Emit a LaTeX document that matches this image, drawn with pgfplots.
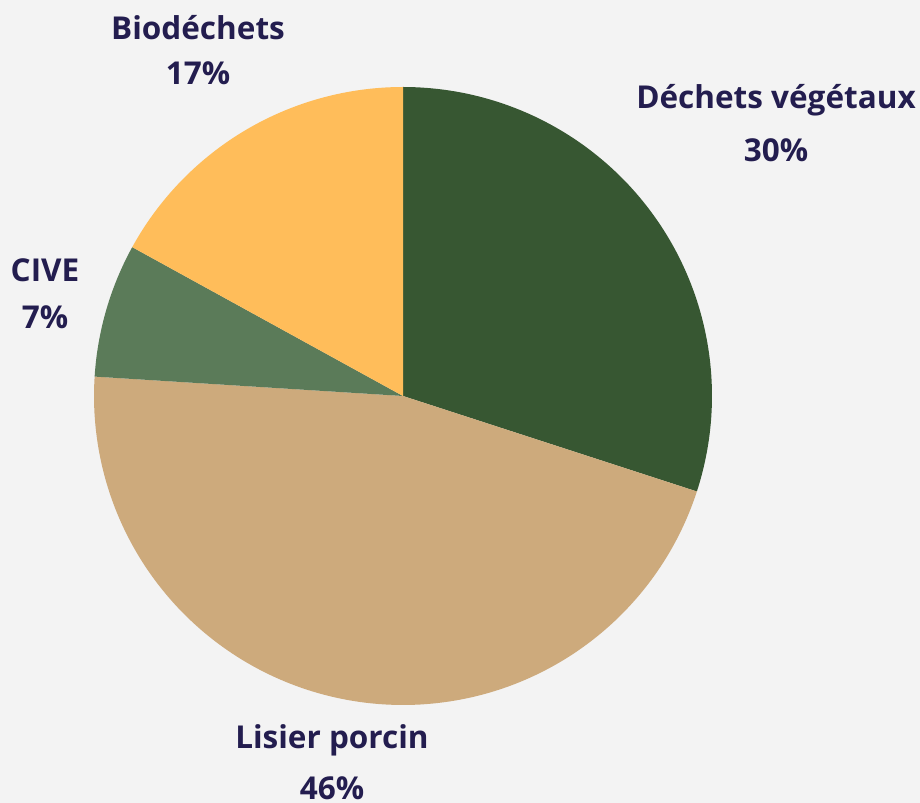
\documentclass[border=0pt]{standalone}
\usepackage{pgfplots}
\pgfplotsset{compat=1.18}
\usepackage{fontspec}
\setmainfont{Open Sans}
\definecolor{bg}{HTML}{F3F3F3}
\definecolor{txt}{HTML}{231D4F}
\definecolor{cA}{HTML}{375732}
\definecolor{cB}{HTML}{CDAA7C}
\definecolor{cC}{HTML}{5B7B59}
\definecolor{cD}{HTML}{FFBD5A}
% values (percent)
\def\vA{30}\def\vB{46}\def\vC{7}\def\vD{17}
\pgfmathsetmacro{\aO}{90}
\pgfmathsetmacro{\aA}{\aO-3.6*\vA}
\pgfmathsetmacro{\aB}{\aA-3.6*\vB}
\pgfmathsetmacro{\aC}{\aB-3.6*\vC}
\pgfmathsetmacro{\aD}{\aC-3.6*\vD}
\begin{document}
\begin{tikzpicture}
\fill[bg] (0,0) rectangle (920bp,803bp);
\begin{axis}[at={(0,0)},anchor=origin,scale only axis,width=920bp,height=803bp,
  xmin=0,xmax=920,ymin=0,ymax=803,hide axis,clip=false]
\def\cx{403}\def\cy{407}\def\r{309}
\addplot[fill=cA,draw=none,domain=\aA:\aO,samples=100,variable=\t] ({\cx+\r*cos(\t)},{\cy+\r*sin(\t)}) -- (axis cs:\cx,\cy) -- cycle;
\addplot[fill=cB,draw=none,domain=\aB:\aA,samples=150,variable=\t] ({\cx+\r*cos(\t)},{\cy+\r*sin(\t)}) -- (axis cs:\cx,\cy) -- cycle;
\addplot[fill=cC,draw=none,domain=\aC:\aB,samples=30,variable=\t] ({\cx+\r*cos(\t)},{\cy+\r*sin(\t)}) -- (axis cs:\cx,\cy) -- cycle;
\addplot[fill=cD,draw=none,domain=\aD:\aC,samples=60,variable=\t] ({\cx+\r*cos(\t)},{\cy+\r*sin(\t)}) -- (axis cs:\cx,\cy) -- cycle;
\tikzset{lbl/.style={text=txt,font=\fontsize{31.5bp}{36bp}\selectfont\bfseries,inner sep=0pt}}
\node[lbl] at (axis cs:776,703) {Déchets végétaux};
\node[lbl] at (axis cs:776,653) {30\%};
\node[lbl] at (axis cs:198,775) {Biodéchets};
\node[lbl] at (axis cs:198,730) {17\%};
\node[lbl] at (axis cs:45,533) {CIVE};
\node[lbl] at (axis cs:45,486) {7\%};
\node[lbl] at (axis cs:332,63) {Lisier porcin};
\node[lbl] at (axis cs:332,15) {46\%};
\end{axis}
\end{tikzpicture}
\end{document}
